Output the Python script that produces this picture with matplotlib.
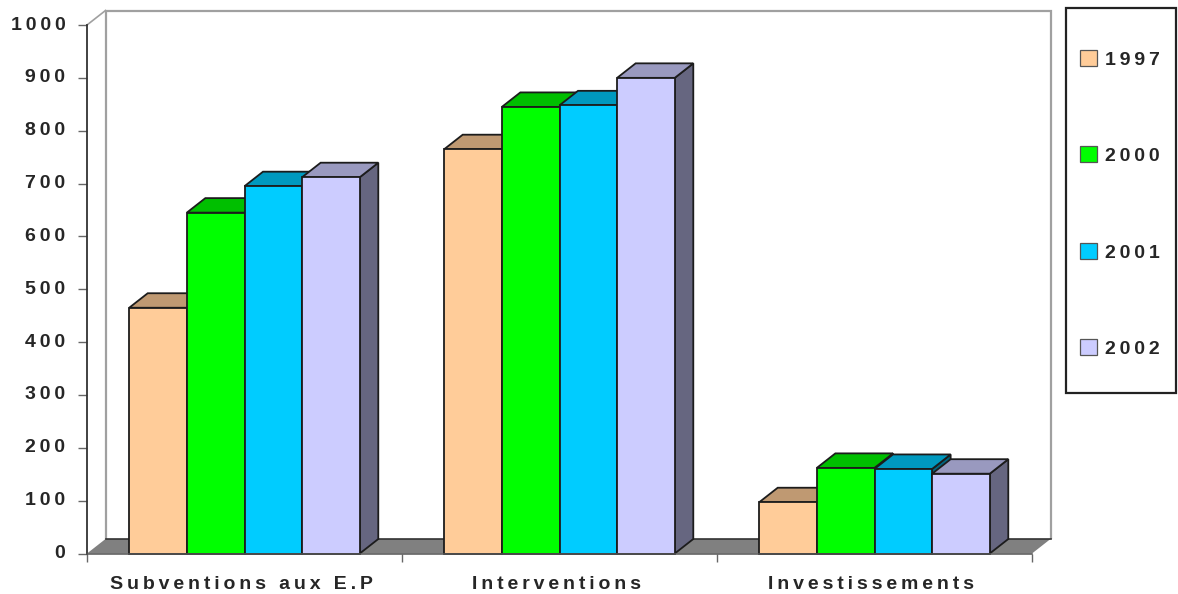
import matplotlib
matplotlib.use("Agg")
import matplotlib.pyplot as plt
from matplotlib.patches import Patch, Polygon, Rectangle
from matplotlib.transforms import ScaledTranslation

plt.rcParams['font.family'] = ['Liberation Sans', 'DejaVu Sans']
plt.rcParams['font.weight'] = 'bold'

categories = ["Subventions aux E.P", "Interventions", "Investissements"]
years = ["1997", "2000", "2001", "2002"]
values_1997 = [465, 765, 97]
values_2000 = [645, 845, 162]
values_2001 = [695, 848, 160]
values_2002 = [712, 900, 151]
y_ticks = [0, 100, 200, 300, 400, 500, 600, 700, 800, 900, 1000]

series = [values_1997, values_2000, values_2001, values_2002]
front = ["#FFCC99", "#00FF00", "#00CCFF", "#CCCCFF"]
top = ["#BF9972", "#00BF00", "#0099BF", "#9999BF"]
side = ["#806650", "#008000", "#006680", "#666680"]

W, H = 1178, 594
TXT = "#262626"
LINE = "#1c1c1c"
FONT = 14


def spaced(s):
    # letter spacing, matplotlib has none of its own
    return "\u2009".join(s)


fig = plt.figure(figsize=(W / 100, H / 100), dpi=100, facecolor="white")
ax = fig.add_axes([87 / W, (H - 553.5) / H, 945 / W, 528.5 / H])
ax.set_xlim(-0.5, 2.5)
ax.set_ylim(0, 1000)

bar_w = 0.183
dx = 18.5 / 315      # depth of the 3d effect, in data units
dy = 14.5 / 0.5285

# back wall and floor
wall = [(-0.5 + dx, dy), (-0.5 + dx, 1000 + dy), (2.5 + dx, 1000 + dy), (2.5 + dx, dy)]
ax.add_patch(Polygon(wall, closed=False, fill=False, ec="#a0a0a0", lw=1.6, clip_on=False, zorder=1))
ax.plot([-0.5, -0.5 + dx], [1000, 1000 + dy], color="#a0a0a0", lw=1.2, clip_on=False, zorder=1)
floor = [(-0.5, 0), (-0.5 + dx, dy), (2.5 + dx, dy), (2.5, 0)]
ax.add_patch(Polygon(floor, fc="#808080", ec="none", clip_on=False, zorder=1))
ax.plot([-0.5 + dx, 2.5 + dx], [dy, dy], color="#333333", lw=1.2, clip_on=False, zorder=1)

# bars, left to right so that each front hides the side of the one before
z = 2
for c in range(len(categories)):
    start = c - 2 * bar_w
    for i, vals in enumerate(series):
        x0 = start + i * bar_w
        x1 = x0 + bar_w
        v = vals[c]
        ax.add_patch(Polygon([(x1, 0), (x1 + dx, dy), (x1 + dx, v + dy), (x1, v)],
                             fc=side[i], ec=LINE, lw=1.3, clip_on=False, zorder=z))
        ax.add_patch(Polygon([(x0, v), (x0 + dx, v + dy), (x1 + dx, v + dy), (x1, v)],
                             fc=top[i], ec=LINE, lw=1.3, clip_on=False, zorder=z))
        ax.add_patch(Rectangle((x0, 0), bar_w, v, fc=front[i], ec=LINE, lw=1.3, clip_on=False, zorder=z + 1))
        z += 2

for s in ["top", "right"]:
    ax.spines[s].set_visible(False)
ax.spines["left"].set_color("#333333")
ax.spines["left"].set_linewidth(1.3)
ax.spines["bottom"].set_color("#555555")
ax.spines["bottom"].set_linewidth(1.1)
ax.spines["bottom"].set_zorder(z + 1)

ax.set_yticks(y_ticks)
ax.set_yticklabels([spaced(str(t)) for t in y_ticks], fontsize=FONT, color=TXT)
ax.tick_params(axis="y", length=6.5, width=1, color="#666666", pad=9)
# labels stand a little above their ticks
for lab in ax.get_yticklabels():
    lab.set_transform(lab.get_transform() + ScaledTranslation(0, 2 / 100, fig.dpi_scale_trans))

# ticks sit between the groups, labels in the middle of each group
ax.set_xticks([-0.5, 0.5, 1.5, 2.5])
ax.set_xticklabels([])
ax.set_xticks(range(len(categories)), [spaced(c) for c in categories], minor=True,
              fontsize=FONT, color=TXT)
ax.tick_params(axis="x", which="major", length=6, width=1, color="#666666")
ax.tick_params(axis="x", which="minor", length=0, pad=16)
for lab in ax.get_xticklabels(minor=True):
    lab.set_transform(lab.get_transform() + ScaledTranslation(-3.5 / 100, 0, fig.dpi_scale_trans))

# legend box drawn apart: its side and top margins are not the same
fig.add_artist(Rectangle((1066 / W, (H - 393) / H), 110 / W, 385 / H, transform=fig.transFigure,
                         fc="white", ec="#222222", lw=1.6))
handles = [Patch(fc=f, ec="#555555", lw=0.9) for f in front]
fig.legend(handles, [spaced(y) for y in years], loc="upper left",
           bbox_to_anchor=(1080 / W, (H - 50) / H), frameon=False, borderpad=0, borderaxespad=0,
           fontsize=FONT, labelcolor=TXT, handlelength=0.88, handleheight=0.88,
           handletextpad=0.41, labelspacing=4.0)

fig.savefig("out.png", dpi=100)
